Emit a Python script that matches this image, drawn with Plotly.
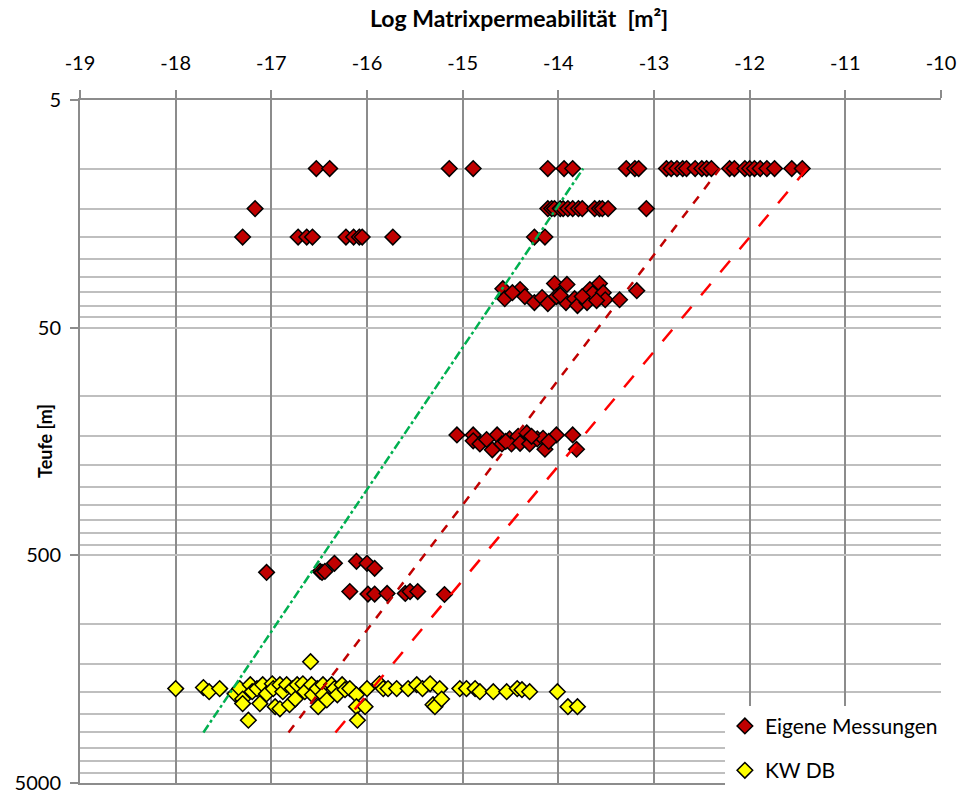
import plotly.graph_objects as go

# ---------------- data ----------------
# Eigene Messungen (log permeability, depth in m)
eig_x = [-16.53, -16.39, -15.14, -14.89, -14.11, -13.94, -13.85, -13.29, -13.20, -13.16,
         -12.87, -12.82, -12.76, -12.70, -12.66, -12.57, -12.50, -12.45, -12.40, -12.21,
         -12.16, -12.05, -12.00, -11.95, -11.89, -11.82, -11.74, -11.56, -11.45,
         -17.17, -14.11, -14.07, -14.04, -13.98, -13.95, -13.90, -13.85, -13.79, -13.75,
         -13.62, -13.57, -13.54, -13.48, -13.08,
         -17.30, -16.72, -16.63, -16.57, -16.22, -16.14, -16.08, -16.05, -15.73, -14.25, -14.14,
         -14.58, -14.56, -14.40, -14.35, -14.25, -14.17, -14.11, -14.04, -14.02, -13.91,
         -13.92, -13.83, -13.80, -13.70, -13.67, -13.64, -13.57, -13.53, -13.51, -13.36,
         -13.18, -14.48, -13.98, -13.75, -13.60,
         -15.06, -14.89, -14.89, -14.82, -14.69, -14.64, -14.59, -14.51, -14.49, -14.42,
         -14.40, -14.33, -14.30, -14.22, -14.16, -14.14, -14.02, -13.85, -13.81, -14.75,
         -14.55, -14.28, -14.10,
         -17.05, -16.49, -16.47, -16.44, -16.34, -16.11, -16.00, -15.92, -16.18, -15.99,
         -15.92, -15.79, -15.60, -15.55, -15.47, -15.19]
eig_depth = [10] * 29 + [15] * 15 + [20] * 11 + \
            [33.7, 37.3, 34.0, 36.5, 38.8, 36.9, 39.2, 32.0, 36.5, 32.3,
             38.8, 37.3, 40.0, 38.8, 34.0, 35.4, 32.0, 35.1, 37.7, 37.7,
             34.4, 35.1, 36.0, 36.5, 38.0] + \
            [148, 148, 157, 162, 172, 148, 162, 154, 162, 150,
             161, 145, 162, 154, 153, 171, 148, 148, 171, 155,
             158, 150, 158] + \
            [594, 588, 594, 588, 542, 531, 542, 570, 721, 740,
             740, 735, 735, 721, 721, 743]

# KW DB
kw_x = [-18.00, -17.71, -17.65, -17.54, -17.38, -17.33, -17.30, -17.30, -17.24, -17.22,
        -17.20, -17.15, -17.12, -17.09, -17.05, -16.99, -16.98, -16.96, -16.91, -16.91,
        -16.88, -16.84, -16.81, -16.78, -16.75, -16.73, -16.67, -16.65, -16.58, -16.57,
        -16.52, -16.46, -16.46, -16.51, -16.42, -16.59, -16.37, -16.34, -16.31, -16.26,
        -16.23, -16.18, -16.11, -16.11, -16.10, -16.02, -16.00, -15.87, -15.83, -15.78,
        -15.69, -15.57, -15.48, -15.42, -15.34, -15.31, -15.29, -15.24, -15.22, -15.03,
        -14.96, -14.87, -14.82, -14.68, -14.54, -14.43, -14.38, -14.30, -14.01, -13.90,
        -13.80]
kw_depth = [1925, 1905, 1986, 1925, 2030, 1925, 2140, 2240, 2650, 1850,
            1986, 1925, 2240, 1850, 2030, 1833, 1925, 2310, 2360, 1850,
            1986, 1850, 2265, 1925, 2140, 1850, 1833, 1986, 1850, 2050,
            1925, 1850, 2050, 2310, 2160, 1466, 1850, 1925, 2050, 1850,
            1945, 1925, 2050, 2310, 2650, 2310, 1925, 1833, 1925, 1925,
            1925, 1925, 1850, 1925, 1833, 2265, 2310, 1925, 2140, 1925,
            1925, 1925, 1986, 1986, 1986, 1925, 1945, 1986, 1986, 2310,
            2310]

# trend lines (endpoints)
green_x = [-17.71, -13.74]
green_depth = [3000, 10]
darkred_x = [-16.82, -12.31]
darkred_depth = [3000, 10]
red_x = [-16.33, -11.40]
red_depth = [3000, 10]

x_ticks = list(range(-19, -9))
x_ticktext = [str(v) for v in x_ticks]
y_major = [5, 50, 500, 5000]
y_minor = [m * b for b in (5, 50, 500) for m in (2, 3, 4, 5, 6, 7, 8, 9)]

FONT = "Lato"

fig = go.Figure()
fig.add_trace(go.Scatter(
    x=eig_x, y=eig_depth, mode="markers", name="Eigene Messungen",
    legendgroup="a",
    marker=dict(symbol="diamond", size=12, color="#C00000",
                line=dict(color="black", width=1.5))))
fig.add_trace(go.Scatter(
    x=kw_x, y=kw_depth, mode="markers", name="KW DB",
    legendgroup="b",
    marker=dict(symbol="diamond", size=12, color="#FFFF00",
                line=dict(color="black", width=1.5))))
fig.add_trace(go.Scatter(
    x=green_x, y=green_depth, mode="lines", showlegend=False,
    line=dict(color="#00B050", width=2.5, dash="dashdot")))
fig.add_trace(go.Scatter(
    x=darkred_x, y=darkred_depth, mode="lines", showlegend=False,
    line=dict(color="#C00000", width=2.5, dash="dash")))
fig.add_trace(go.Scatter(
    x=red_x, y=red_depth, mode="lines", showlegend=False,
    line=dict(color="#FF0000", width=2.5, dash="longdash")))

fig.update_layout(
    width=960, height=796,
    margin=dict(l=80, r=19, t=100, b=13, autoexpand=False),
    paper_bgcolor="white", plot_bgcolor="white",
    font=dict(family=FONT, size=20, color="black"),
    showlegend=True,
    legend=dict(x=0.749, y=0.113, xanchor="left", yanchor="top",
                bgcolor="white", borderwidth=0,
                font=dict(family=FONT, size=21),
                traceorder="grouped", tracegroupgap=14,
                itemwidth=30),
    xaxis=dict(
        side="top", range=[-19, -10], tickmode="array", tickvals=x_ticks,
        ticktext=x_ticktext, automargin=False,
        showgrid=True, gridcolor="#8C8C8C", gridwidth=1.5,
        showline=True, linecolor="#8C8C8C", linewidth=2, mirror=True,
        ticks="outside", ticklen=8, tickcolor="#8C8C8C", tickwidth=1.5,
        ticklabelstandoff=12,
        zeroline=False,
    ),
    yaxis=dict(
        type="log", range=[3.69897, 0.69897], tickmode="array", tickvals=y_major,
        ticktext=[str(v) for v in y_major], automargin=False,
        showgrid=True, gridcolor="#BFBFBF", gridwidth=1.5,
        showline=True, linecolor="#8C8C8C", linewidth=2,
        ticks="outside", ticklen=8, tickcolor="#8C8C8C", tickwidth=1.5,
        ticklabelstandoff=5,
        zeroline=False,
        minor=dict(tickmode="array", tickvals=y_minor, showgrid=True,
                   gridcolor="#BFBFBF", gridwidth=1.5, ticks=""),
    ),
    annotations=[
        dict(text="<b>Log Matrixpermeabilität \u00a0[m²]</b>", xref="paper", yref="paper",
             x=(519 - 80) / 861, y=(783 - 18) / 683, xanchor="center", yanchor="middle",
             showarrow=False, font=dict(family=FONT, size=23)),
        dict(text="<b>Teufe [m]</b>", xref="paper", yref="paper",
             x=(45 - 80) / 861, y=(783 - 441) / 683, xanchor="center", yanchor="middle",
             textangle=-90, showarrow=False, font=dict(family=FONT, size=18)),
    ],
)

fig.write_html("out.html", config={"displayModeBar": False},
               post_script="document.body.style.margin='0';document.body.style.overflow='hidden';")
